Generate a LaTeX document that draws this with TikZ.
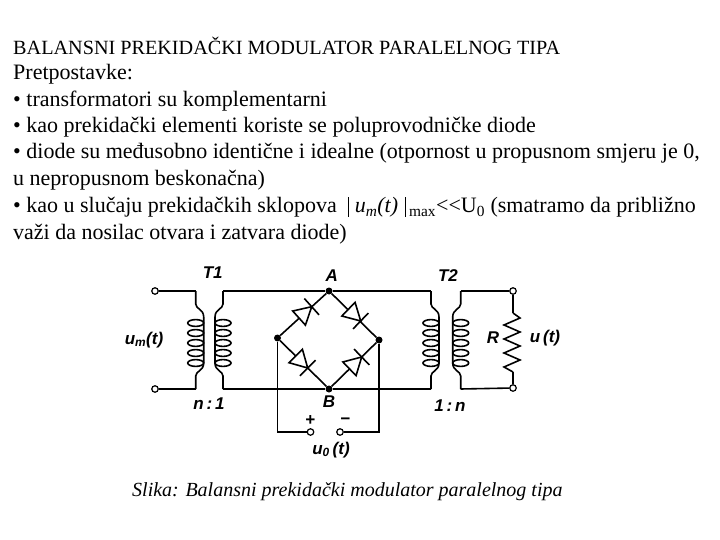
\documentclass[tikz,border=0pt]{standalone}
\usepackage{fontspec}
\setmainfont{Liberation Serif}
\newfontfamily\labelfont{Liberation Sans}
\usepackage{tikz}
\tikzset{
  line/.style={black,line width=1.6pt},
  txt/.style={inner sep=0pt,anchor=base west,font=\fontsize{22}{22}\selectfont},
  lbl/.style={inner sep=0pt,font=\labelfont\bfseries\itshape\fontsize{17}{17}\selectfont},
  dot/.style={circle,fill=black,inner sep=0pt,minimum size=7pt},
  term/.style={circle,draw=black,fill=white,line width=1.2pt,inner sep=0pt,minimum size=6.5pt},
  coil/.pic={
    \draw [line] (0,0) -- (0,-13) .. controls (0,-18) and (8,-18) .. (8,-26)
      -- (8,-72) .. controls (8,-80) and (0,-80) .. (0,-85) -- (0,-98);
    \foreach \y in {-32,-42,-52,-62,-72}
      \draw [line] (0,\y) ellipse (8 and 3.4);
  },
  diode/.pic={
    \draw [line,fill=white] (0,0) -- (-17,9.5) -- (-17,-9.5) -- cycle;
    \draw [line] (0,-11) -- (0,11);
  }
}
\newcommand{\absbar}{\rule[-4pt]{1pt}{20pt}}
\begin{document}
\begin{tikzpicture}[x=1pt,y=1pt]
\useasboundingbox (0,0) rectangle (720,-540);
% text
\node [txt,font=\fontsize{20.2}{20}\selectfont] (title) at (13,-54.5) {BALANSNI PREKIDAČKI MODULATOR PARALELNOG TIPA};
\node [txt] (t1) at (13,-80) {Pretpostavke:};
\node [txt] (t2) at (13,-107) {• transformatori su komplementarni};
\node [txt] (t3) at (13,-133) {• kao prekidački elementi koriste se poluprovodničke diode};
\node [txt] (t4) at (13,-159) {• diode su međusobno identične i idealne (otpornost u propusnom smjeru je 0,};
\node [txt] (t5) at (13,-186) {u nepropusnom beskonačna)};
\node [txt] (t6) at (13,-213) {• kao u slučaju prekidačkih sklopova\hspace{11pt}\absbar\hspace{6pt}\textit{u\textsubscript{m}(t)}\hspace{7pt}\absbar\hspace{3pt}\textsubscript{max}{<}{<}U\textsubscript{0} (smatramo da približno};
\node [txt] (t7) at (13,-240) {važi da nosilac otvara i zatvara diode)};
\node [txt,font=\fontsize{20}{20}\selectfont\itshape] (caption) at (132,-496) {Slika: Balansni prekidački modulator paralelnog tipa};
% bridge
\node [dot] (A) at (329,-291) {};
\node [dot] (B) at (329,-389) {};
\node [dot] (L) at (277.5,-338) {};
\node [dot] (D) at (379,-340) {};
\coordinate (c1t) at (195.7,-291);
\coordinate (c1b) at (195.7,-389);
\coordinate (c2t) at (223,-291);
\coordinate (c2b) at (223,-389);
\coordinate (c3t) at (431,-291);
\coordinate (c3b) at (431,-389);
\coordinate (c4t) at (460.7,-291);
\coordinate (c4b) at (460.7,-389);
\node [term] (in1) at (155,-291) {};
\node [term] (in2) at (155,-389) {};
\node [term] (out1) at (513,-291) {};
\node [term] (out2) at (513,-388) {};
\node [term] (plus) at (310.5,-432) {};
\node [term] (minus) at (340,-432) {};
\coordinate (r1) at (513,-313);
\coordinate (r2) at (513,-372);
\draw [line] (in1) -- (c1t);
\draw [line] (in2) -- (c1b);
\draw [line] (c2t) -- (A) -- (c3t);
\draw [line] (c2b) -- (B) -- (c3b);
\draw [line] (L) -- (A) -- (D) -- (B) -- (L);
\draw [line] (L) |- (plus);
\draw [line] (D) |- (minus);
\draw [line] (c4t) -- (out1) -- (r1);
\draw [line] (c4b) -- (out2) -- (r2);
\draw [line] (r1) -- (520,-318) -- (504,-325) -- (520,-332) -- (504,-339) -- (520,-346) -- (504,-353) -- (520,-360) -- (504,-367) -- (r2);
% coils
\path (c1t) pic {coil};
\path (c2t) pic [xscale=-1] {coil};
\path (c3t) pic {coil};
\path (c4t) pic [xscale=-1] {coil};
% diodes
\path (311.7,-306.7) pic [rotate=42] {diode};
\path (307.7,-368) pic [rotate=-45] {diode};
\path (360.7,-321) pic [rotate=-44] {diode};
\path (361.7,-357) pic [rotate=44] {diode};
% labels
\node [lbl] (T1) at (212.7,-273) {T1};
\node [lbl] (T2) at (448,-276) {T2};
\node [lbl] (lA) at (331.7,-276) {A};
\node [lbl] (lB) at (329,-402) {B};
\node [lbl] (um) at (144,-340) {u\textsubscript{m}(t)};
\node [lbl] (n1) at (209,-404) {n\,:\,1};
\node [lbl] (1n) at (450,-406) {1\,:\,n};
\node [lbl] (lR) at (493,-338) {R};
\node [lbl] (ut) at (545,-338) {u\,(t)};
\node [lbl] (u0) at (331,-450) {u\textsubscript{0}\,(t)};
\node [lbl] (lp) at (310,-421) {+};
\node [lbl] (lm) at (345,-421) {−};
\end{tikzpicture}
\end{document}
